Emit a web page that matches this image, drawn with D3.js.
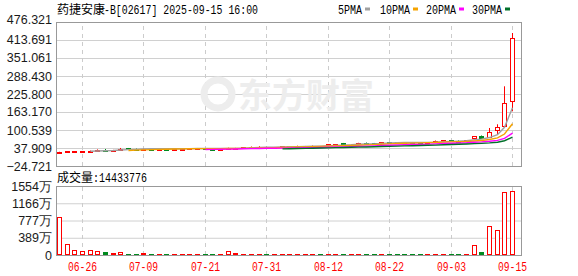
<!DOCTYPE html>
<html>
<head>
<meta charset="utf-8">
<script src="https://cdn.jsdelivr.net/npm/d3@7/dist/d3.min.js"></script>
<style>
  body { margin: 0; background: #fff; }
  svg text { font-family: "Liberation Sans", Arial, sans-serif; }
</style>
</head>
<body>
<div id="wrapper"></div>
<script>
// trading days shown (MM-DD)
const dates = ["06-23","06-24","06-25","06-26","06-27","06-30","07-02","07-03","07-04","07-07",
  "07-08","07-09","07-10","07-11","07-14","07-15","07-16","07-17","07-18","07-21",
  "07-22","07-23","07-24","07-25","07-28","07-29","07-30","07-31","08-01","08-04",
  "08-05","08-06","08-07","08-08","08-11","08-12","08-13","08-14","08-15","08-18",
  "08-19","08-20","08-21","08-22","08-25","08-26","08-27","08-28","08-29","09-01",
  "09-02","09-03","09-04","09-05","09-08","09-09","09-10","09-11","09-12","09-15"];
const opens = [23,24.5,25.5,26,27,28.5,32,30,31,37.5,
  35.5,34.5,35.5,35,35.5,35,35.5,36,36.5,37,
  36,35,35.5,37,38.5,40,41,41.5,40.5,41.5,
  43,43.5,44,44,44.5,47,50,55,49.5,52,
  55,55,55,58,58,57.5,57.8,57.3,57,57.8,
  62,65,64,62,70.3,80.7,76.2,100.5,112,200.4];
const closes = [24,26,26.5,26.8,28.5,30.5,30,31,34.5,36,
  34.5,35.5,35,35.5,35,35.5,36,36.5,37,36,
  35,35.5,37.5,38,40.4,41.4,41.5,40.5,41,43.8,
  43.8,44,44.5,44.5,44,50.8,50.8,49.5,50,54.3,
  54,54.3,57.8,57.5,57.5,57,57.3,57,57.8,61.2,
  64.7,64,62,64.7,78.6,73.8,92.5,111,193.5,419.6];
const highs = [24.8,26.5,27,27.5,29,33,34.5,31.5,38,38,
  36,36,36,36,35.8,36,36.5,37,37.5,37.5,
  36.5,36,39,38.5,41,43,44,42,41.5,44.5,
  44.5,46,45,46.5,45,51.5,51.5,55.5,50.5,56,
  57,55.5,58.5,58.5,58.5,58,58.8,57.8,58.5,64,
  65.5,65.5,64.5,65.5,79.5,81.5,107.5,120.4,252.6,438];
const lows = [22.5,24,25,25.5,26.5,28,29.5,29.5,30.5,35,
  34,34,34.5,34.8,34.5,34.8,35.2,35.8,36,35.5,
  34.5,34.5,35,36.5,38,39.5,40.5,40,40,41,
  42.5,43,43.5,43.5,43.5,46.5,49.5,49,49,51.5,
  53.5,53.8,54.5,57,57,56.5,57,56.5,56.8,57.5,
  61.5,63.5,61.5,61.5,65.8,73,75,86.6,110,165.6];
// volume in 万股
const volumes = [846,242,122,100,122,100,61,38,61,20,
  20,38,18,20,18,20,20,22,20,18,
  18,20,84,38,22,20,20,18,18,20,
  20,20,18,18,18,22,20,20,18,20,
  18,18,20,18,18,18,18,18,18,20,
  20,18,18,20,235,61,643,552,1420,1443.3776];
const lastVolume = "14433776";

const priceTicks = [476.321, 413.691, 351.061, 288.430, 225.800, 163.170, 100.539, 37.909, -24.721];
const volTicks = [0, 388.5, 777, 1165.5, 1554];
const volTickLabels = ["0", "389万", "777万", "1166万", "1554万"];
const dateTicks = ["06-26", "07-09", "07-21", "07-31", "08-12", "08-22", "09-03", "09-15"];
const maPeriods = [5, 10, 20, 30];
const maNames = ["5PMA", "10PMA", "20PMA", "30PMA"];

const colors = { up: "#ff0000", down: "#008a1e", ma: ["#a0a0a0", "#f5a300", "#ff00ff", "#00702a"] };

const dimensions = {
  width: 578, height: 276,
  left: 56, right: 522,
  priceTop: 22, priceBottom: 166,
  volTop: 186, volBottom: 255
};

const data = dates.map((d, i) => ({
  date: d, open: opens[i], close: closes[i], high: highs[i], low: lows[i], vol: volumes[i]
}));

const svg = d3.select("#wrapper").append("svg")
  .attr("width", dimensions.width)
  .attr("height", dimensions.height);

// scales
const step = 7.68;
const xScale = d3.scaleBand()
  .domain(dates)
  .range([dimensions.left, dimensions.left + step * dates.length])
  .paddingInner(0.35)
  .paddingOuter(0.175);
const cx = d => Math.round(xScale(d) + xScale.bandwidth() / 2);

const yScale = d3.scaleLinear()
  .domain([-24.721, 476.321])
  .range([dimensions.priceBottom, dimensions.priceTop]);

const vScale = d3.scaleLinear()
  .domain([0, 1554])
  .range([dimensions.volBottom, dimensions.volTop]);

const plotW = dimensions.right - dimensions.left;

// horizontal grid
svg.append("g")
  .attr("transform", `translate(${dimensions.left},0)`)
  .call(d3.axisLeft(yScale).tickValues(priceTicks).tickSize(-plotW).tickFormat(""))
  .call(g => g.select(".domain").remove())
  .call(g => g.selectAll("line").attr("stroke", "#d0d0d0"));
svg.append("g")
  .attr("transform", `translate(${dimensions.left},0)`)
  .call(d3.axisLeft(vScale).tickValues(volTicks).tickSize(-plotW).tickFormat(""))
  .call(g => g.select(".domain").remove())
  .call(g => g.selectAll("line").attr("stroke", "#d0d0d0"));

// vertical dashed grid
[[dimensions.priceTop, dimensions.priceBottom], [dimensions.volTop, dimensions.volBottom]].forEach(([t, b]) => {
  svg.append("g")
    .attr("transform", `translate(0,${b})`)
    .call(d3.axisBottom(xScale).tickValues(dateTicks).tickSize(-(b - t)).tickFormat(""))
    .call(g => g.select(".domain").remove())
    .call(g => g.selectAll(".tick").attr("transform", d => `translate(${cx(d) - 0.5},0)`))
    .call(g => g.selectAll("line").attr("stroke", "#cccccc").attr("stroke-dasharray", "4,4"));
});

// watermark
const wm = svg.append("g").attr("fill", "#ededed");
wm.append("circle").attr("cx", 218).attr("cy", 94).attr("r", 14)
  .attr("fill", "none").attr("stroke", "#ededed").attr("stroke-width", 7);
wm.append("text").attr("x", 238).attr("y", 108)
  .style("font-family", "'Noto Sans CJK SC'").style("font-weight", "bold")
  .style("font-size", "34px").text("东方财富");

// y labels
svg.append("g")
  .attr("transform", `translate(${dimensions.left},0)`)
  .call(d3.axisLeft(yScale).tickValues(priceTicks).tickSize(0).tickPadding(4).tickFormat(d3.format(".3f")))
  .call(g => g.select(".domain").remove())
  .call(g => g.selectAll("text").attr("fill", "#1a1a1a").style("font-size", "12.5px"))
  .call(g => g.selectAll(".tick").filter(d => d === priceTicks[0]).select("text").attr("dy", "0.1em"));

svg.append("g")
  .attr("transform", `translate(${dimensions.left},0)`)
  .call(d3.axisLeft(vScale).tickValues(volTicks).tickSize(0).tickPadding(4)
    .tickFormat((d, i) => volTickLabels[i]))
  .call(g => g.select(".domain").remove())
  .call(g => g.selectAll("text").attr("fill", "#1a1a1a").style("font-size", "12.5px"));

// x labels
svg.append("g")
  .attr("transform", `translate(0,${dimensions.volBottom})`)
  .call(d3.axisBottom(xScale).tickValues(dateTicks).tickSize(0).tickPadding(7))
  .call(g => g.select(".domain").remove())
  .call(g => g.selectAll(".tick").attr("transform", d => `translate(${cx(d) - 0.5},0)`))
  .call(g => g.selectAll("text").attr("fill", "#ff0000")
    .style("font-family", "'Liberation Mono', monospace").style("font-size", "12px")
    .attr("textLength", 29).attr("lengthAdjust", "spacingAndGlyphs"));

// candles
const candles = svg.append("g").selectAll("g").data(data).join("g");
candles.append("line")
  .attr("x1", d => cx(d.date) - 0.5).attr("x2", d => cx(d.date) - 0.5)
  .attr("y1", d => yScale(d.high)).attr("y2", d => yScale(d.low))
  .attr("stroke", d => d.close >= d.open ? colors.up : colors.down);
candles.append("rect")
  .attr("x", d => cx(d.date) - 2.5)
  .attr("width", 4)
  .attr("y", d => Math.round(yScale(Math.max(d.open, d.close))) + 0.5)
  .attr("height", d => Math.max(1, Math.round(Math.abs(yScale(d.open) - yScale(d.close)))))
  .attr("fill", d => d.close >= d.open ? "#fff" : colors.down)
  .attr("stroke", d => d.close >= d.open ? colors.up : colors.down);

// moving averages
maPeriods.forEach((p, k) => {
  const ma = data.map((d, i) => i < p - 1 ? null : d3.mean(closes.slice(i - p + 1, i + 1)));
  svg.append("path")
    .datum(ma)
    .attr("fill", "none")
    .attr("stroke", colors.ma[k])
    .attr("stroke-width", 1.4)
    .attr("d", d3.line()
      .defined(v => v !== null)
      .x((v, i) => cx(dates[i]) - 0.5)
      .y(v => yScale(v)));
});

// volume bars
svg.append("g").selectAll("rect").data(data).join("rect")
  .attr("x", d => cx(d.date) - 2.5)
  .attr("width", 4)
  .attr("y", d => Math.round(vScale(d.vol)) + 0.5)
  .attr("height", d => Math.max(1, Math.round(dimensions.volBottom - vScale(d.vol)) - 1))
  .attr("fill", d => d.close >= d.open ? "#fff" : colors.down)
  .attr("stroke", d => d.close >= d.open ? colors.up : colors.down);

// frames
[[dimensions.priceTop, dimensions.priceBottom], [dimensions.volTop, dimensions.volBottom]].forEach(([t, b]) => {
  svg.append("rect")
    .attr("x", dimensions.left + 0.5).attr("y", t + 0.5)
    .attr("width", plotW - 1).attr("height", b - t)
    .attr("fill", "none").attr("stroke", "#999");
});

// title and legend
const header = svg.append("g").style("font-size", "12px");
header.append("text").attr("x", 57).attr("y", 14)
  .style("font-family", "'Noto Sans CJK SC'").text("药捷安康");
header.append("text").attr("x", 104).attr("y", 14)
  .style("font-family", "'Liberation Mono', monospace")
  .attr("textLength", 154).attr("lengthAdjust", "spacingAndGlyphs")
  .text("-B[02617] 2025-09-15 16:00");

const legendX = [338, 380, 426, 472];
maNames.forEach((name, k) => {
  header.append("text").attr("x", legendX[k]).attr("y", 14)
    .style("font-family", "'Liberation Mono', monospace")
    .attr("textLength", name.length * 6).attr("lengthAdjust", "spacingAndGlyphs")
    .text(name);
  header.append("rect")
    .attr("x", legendX[k] + name.length * 6 + 3).attr("y", 7.5)
    .attr("width", 5).attr("height", 3)
    .attr("fill", colors.ma[k]);
});

svg.append("text").attr("x", 57).attr("y", 182)
  .style("font-family", "'Noto Sans CJK SC'").style("font-size", "12px")
  .text("成交量");
svg.append("text").attr("x", 93).attr("y", 182)
  .style("font-family", "'Liberation Mono', monospace").style("font-size", "12px")
  .attr("textLength", 54).attr("lengthAdjust", "spacingAndGlyphs")
  .text(":" + lastVolume);
</script>
</body>
</html>
